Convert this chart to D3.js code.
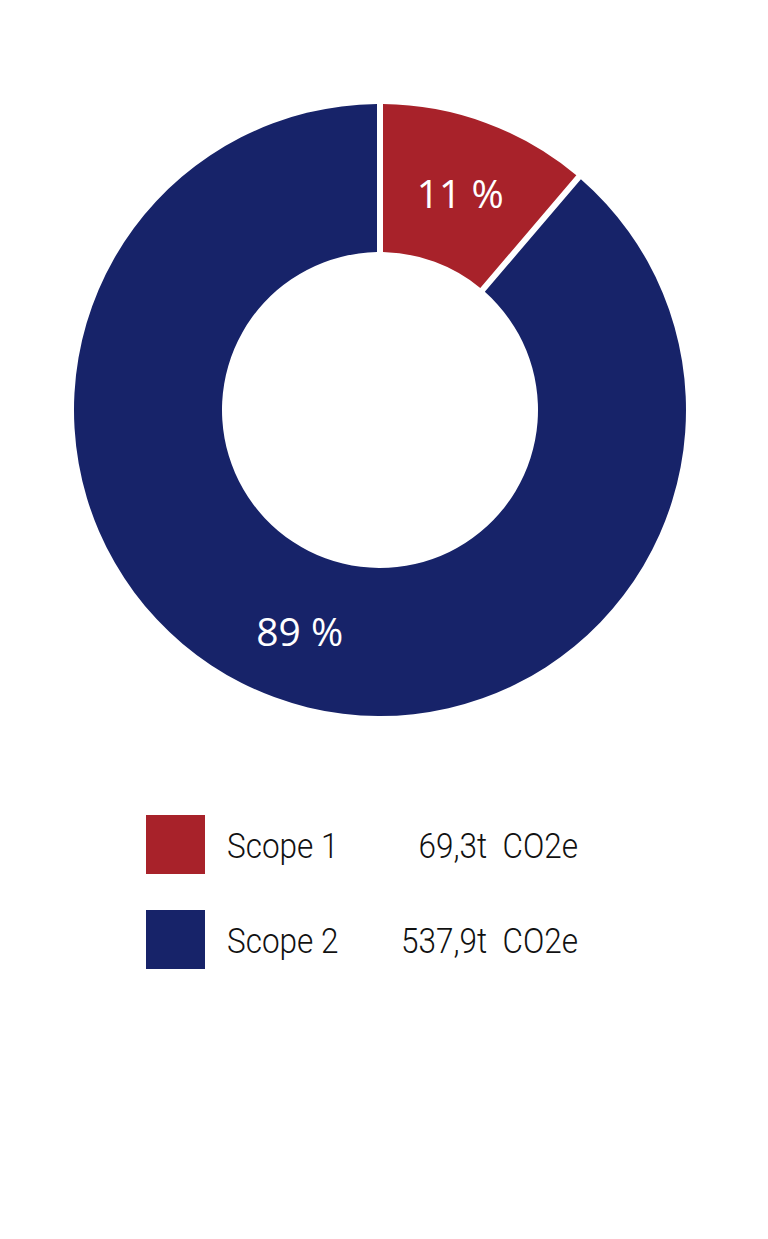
<!DOCTYPE html>
<html>
<head>
<meta charset="utf-8">
<script src="https://cdn.jsdelivr.net/npm/d3@7"></script>
<style>
  body { margin: 0; background: #fff; }
  svg { display: block; }
</style>
</head>
<body>
<svg id="chart" width="768" height="1239"></svg>
<script>
// emissions by scope (t CO2e)
var categories = ["Scope 1", "Scope 2"];
var values = [69.3, 537.9];
var percents = [11, 89];
var valueLabels = ["69,3t  CO2e", "537,9t  CO2e"];
var colors = ["#a8222a", "#172369"];

var svg = d3.select("#chart");

var cx = 380, cy = 410;
var outer = 306, inner = 158;

var data = categories.map(function (c, i) {
    return {name: c, value: values[i], pct: percents[i], label: valueLabels[i]};
});

// slices follow the rounded shares shown on the chart
var pie = d3.pie()
    .sort(null)
    .value(function (d) { return d.pct; })
    .padAngle(6 / outer);

var arc = d3.arc()
    .innerRadius(inner)
    .outerRadius(outer)
    .padRadius(outer);

var color = d3.scaleOrdinal().domain(categories).range(colors);

var g = svg.append("g").attr("transform", "translate(" + cx + "," + cy + ")");

var slices = g.selectAll("g.slice")
    .data(pie(data))
    .enter().append("g")
    .attr("class", "slice");

slices.append("path")
    .attr("d", arc)
    .attr("fill", function (d) { return color(d.data.name); });

slices.append("text")
    .attr("transform", function (d) {
        var c = arc.centroid(d);
        return "translate(" + c[0] + "," + (c[1] + (d.index ? 3 : 0)) + ")";
    })
    .attr("text-anchor", "middle")
    .attr("dominant-baseline", "central")
    .attr("fill", "#fff")
    .style("font-family", "'Open Sans', sans-serif")
    .style("font-size", "39px")
    .text(function (d) { return d.data.pct + " %"; });

// legend
var rowY = d3.scaleBand().domain(categories).range([815, 1005]).paddingInner(0);
var box = 59;

var legend = svg.selectAll("g.legend")
    .data(data)
    .enter().append("g")
    .attr("class", "legend")
    .attr("transform", function (d) { return "translate(146," + (rowY(d.name)) + ")"; });

legend.append("rect")
    .attr("width", box)
    .attr("height", box)
    .attr("fill", function (d) { return color(d.name); });

// narrow look: squeeze the text horizontally
var txt = legend.append("g").attr("transform", "scale(0.9,1)");

txt.append("text")
    .attr("x", 81 / 0.9)
    .attr("y", 43)
    .style("font-family", "Roboto, sans-serif")
    .style("font-weight", 300)
    .style("font-size", "35px")
    .style("fill", "#111")
    .text(function (d) { return d.name; });

txt.append("text")
    .attr("x", 432 / 0.9)
    .attr("y", 43)
    .attr("text-anchor", "end")
    .style("font-family", "Roboto, sans-serif")
    .style("font-weight", 300)
    .style("font-size", "35px")
    .style("fill", "#111")
    .style("white-space", "pre")
    .text(function (d) { return d.label; });
</script>
</body>
</html>
